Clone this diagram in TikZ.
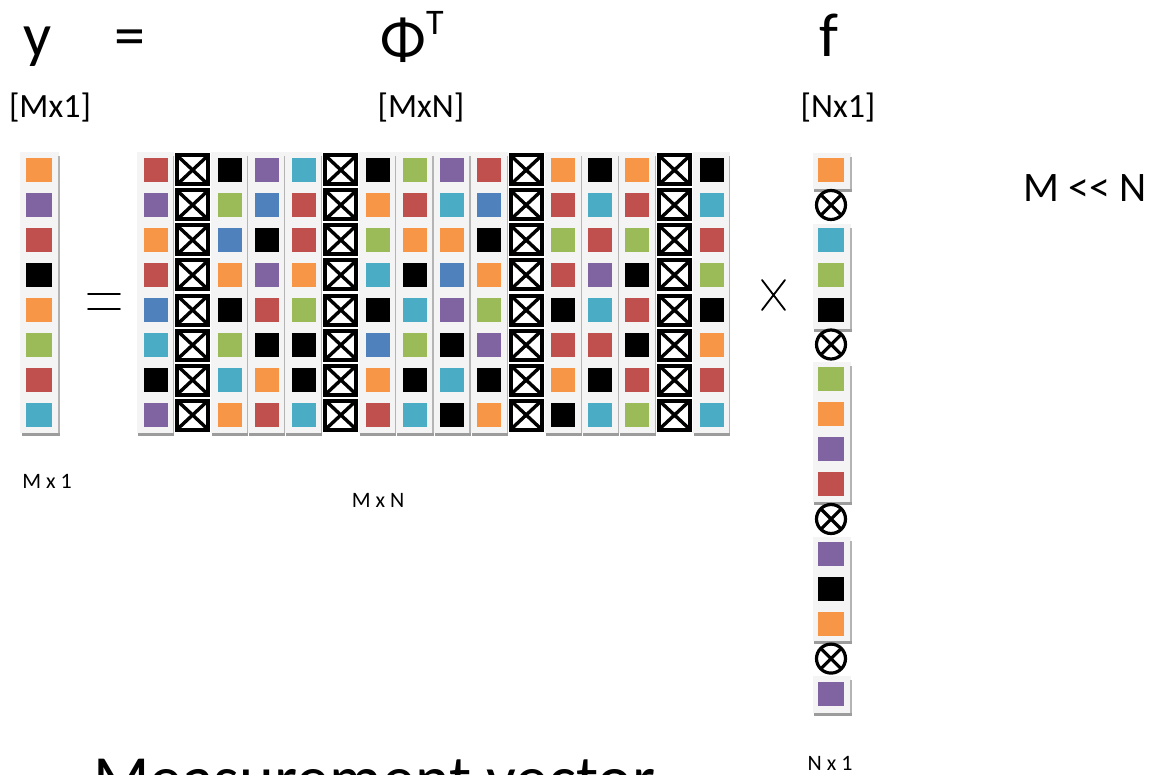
\documentclass[tikz,border=0pt]{standalone}
\usepackage{fontspec}
\setmainfont{Carlito}
\definecolor{cO}{HTML}{F79646}
\definecolor{cP}{HTML}{8064A2}
\definecolor{cR}{HTML}{C0504D}
\definecolor{cK}{HTML}{000000}
\definecolor{cG}{HTML}{9BBB59}
\definecolor{cC}{HTML}{4BACC6}
\definecolor{cB}{HTML}{4F81BD}
\definecolor{panelgray}{HTML}{F4F4F4}
\definecolor{shadowgray}{HTML}{9C9C9C}
\definecolor{edgegray}{HTML}{B4B4B4}
\newcommand\myfs[1]{\fontsize{#1}{#1}\selectfont}
\begin{document}
\begin{tikzpicture}[x=1pt,y=-1pt,
  sq/.style={minimum width=24pt,minimum height=24pt,inner sep=0pt,outer sep=0pt,draw=none},
  sq-o/.style={sq,fill=cO}, sq-p/.style={sq,fill=cP}, sq-r/.style={sq,fill=cR},
  sq-k/.style={sq,fill=cK}, sq-g/.style={sq,fill=cG}, sq-c/.style={sq,fill=cC},
  sq-b/.style={sq,fill=cB},
  sq-X/.style={draw=black,line width=4pt,fill=white,minimum width=31pt,minimum height=29pt,inner sep=0pt,
    path picture={\draw[line width=3.4pt] (path picture bounding box.north west) -- (path picture bounding box.south east)
      (path picture bounding box.north east) -- (path picture bounding box.south west);}},
  sq-O/.style={circle,draw=black,line width=3.2pt,fill=white,minimum size=29pt,inner sep=0pt,
    path picture={\draw[line width=3.2pt] (path picture bounding box.north west) -- (path picture bounding box.south east)
      (path picture bounding box.north east) -- (path picture bounding box.south west);}},
  wide/.style={minimum width=26pt},
  lbl/.style={inner sep=0pt,outer sep=0pt,anchor=base},
  thinsym/.style={line width=1.8pt,line cap=round}
]
\useasboundingbox (0,0) rectangle (1155,775);
\fill[white] (0,0) rectangle (1155,775);

% ---------- panels of the matrix ----------
\foreach \k in {1,3,4,5,7,8,9,10,12,13,14,16} {
  \pgfmathsetmacro\xa{137+37.07*(\k-1)}
  \pgfmathsetmacro\xb{\xa+37.07}
  \fill[panelgray] (\xa,152) rectangle (\xb,433);
  \fill[shadowgray] (\xa+1,433) rectangle (\xb,436);
  \draw[edgegray,line width=1.2pt] (\xb-0.6,156) -- (\xb-0.6,433);
}
% ---------- panel of y ----------
\fill[panelgray] (20,152) rectangle (59,433);
\fill[shadowgray] (22,433) rectangle (60,436);
\draw[edgegray,line width=1.2pt] (59,156) -- (59,433);
% ---------- panels of f ----------
\foreach \ta/\tb in {153/189,224/329,362/502,537/641,676/713} {
  \fill[panelgray] (813,\ta) rectangle (851,\tb);
  \fill[shadowgray] (814,\tb) rectangle (852,\tb+3);
  \draw[edgegray,line width=1.2pt] (851,\ta+4) -- (851,\tb);
}

% ---------- matrix Phi^T ----------
\foreach \colspec [count=\i] in {
  {r,p,o,r,b,c,k,p},{X,X,X,X,X,X,X,X},{k,g,b,o,k,g,c,o},{p,b,k,p,r,k,o,r},
  {c,r,r,o,g,k,k,c},{X,X,X,X,X,X,X,X},{k,o,g,c,k,b,o,r},{g,r,o,k,c,g,k,c},
  {p,c,o,b,p,k,c,k},{r,b,k,o,g,p,k,o},{X,X,X,X,X,X,X,X},{o,r,g,r,k,r,o,k},
  {k,c,r,p,c,r,k,c},{o,r,g,k,r,k,r,g},{X,X,X,X,X,X,X,X},{k,c,r,g,k,o,r,c}} {
  \pgfmathsetmacro\cx{155.5+37.07*(\i-1)}
  \foreach \c [count=\j] in \colspec {
    \node[sq-\c] (m-\j-\i) at (\cx,{170+35*(\j-1)}) {};
  }
}

% ---------- vector y ----------
\foreach \c [count=\j] in {o,p,r,k,o,g,r,c} {
  \node[sq-\c,wide] (y-\j) at (39,{170+35*(\j-1)}) {};
}

% ---------- vector f ----------
\foreach \c/\yy [count=\k] in {o/170,O/205,c/240,g/275,k/310,O/344.5,g/379,o/414,p/449,r/484,O/519,p/554,k/589,o/624,O/658.6,p/693.5} {
  \node[sq-\c,wide] (f-\k) at (831,\yy) {};
}

% ---------- operators between the blocks ----------
\draw[thinsym] (88,294) -- (120,294) (88,309) -- (120,309);
\draw[thinsym] (762,280) -- (785,310) (785,280) -- (762,310);

% ---------- texts ----------
\node[lbl] (ty) at (38,57) {\myfs{62}y};
\node[lbl] (teq) at (130,57) {\myfs{62}=};
\node[lbl] (tphi) at (412,60) {\myfs{60}Φ\raisebox{25pt}{\myfs{36}T}};
\node[lbl] (tf) at (829,57) {\myfs{62}f};
\node[lbl] (dy) at (50,118) {\myfs{34}[Mx1]};
\node[lbl] (dphi) at (421,118) {\myfs{34}[MxN]};
\node[lbl] (df) at (838,118) {\myfs{34}[Nx1]};
\node[lbl] (tmn) at (1085,202) {\myfs{42}M <{}< N};
\node[lbl] (sy) at (47,488) {\myfs{22}M x 1};
\node[lbl] (sphi) at (378,507) {\myfs{22}M x N};
\node[lbl] (sf) at (830,770) {\myfs{22}N x 1};
\node[lbl,anchor=base west] (meas) at (93,801) {\myfs{66}Measurement vector};
\end{tikzpicture}
\end{document}
